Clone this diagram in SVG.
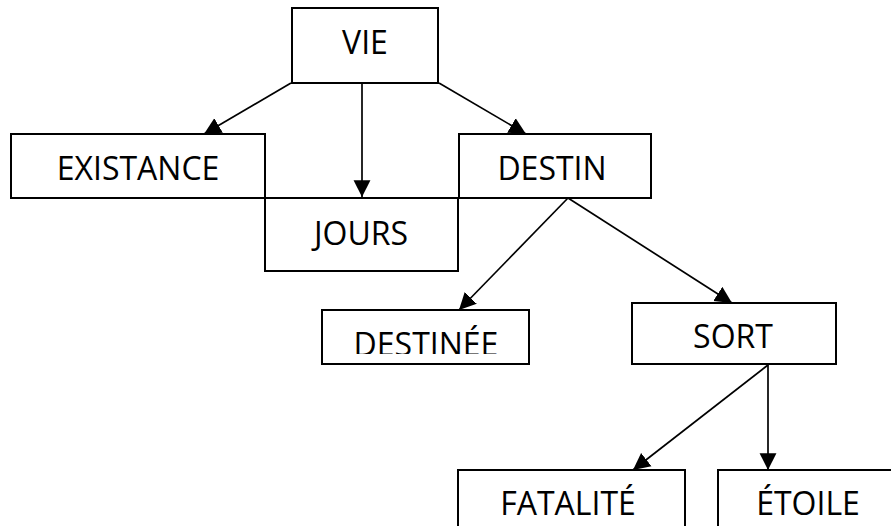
<svg xmlns="http://www.w3.org/2000/svg" width="891" height="526" viewBox="0 0 891 526">
<style>
.box{fill:#fff;stroke:#000;stroke-width:2}
.lbl{font-family:"Open Sans","Liberation Sans",sans-serif;font-size:32px;fill:#000;text-anchor:middle}
.con{stroke:#000;stroke-width:1.7;fill:none;marker-end:url(#ah)}
</style>
<defs>
<marker id="ah" markerUnits="userSpaceOnUse" markerWidth="18" markerHeight="18" viewBox="0 -8 16 16" refX="15" refY="0" orient="auto">
<path d="M0,-7.5 L15,0 L0,7.5 z" fill="#000"/>
</marker>
<clipPath id="clipDest"><rect x="322" y="310" width="208" height="44"/></clipPath>
</defs>
<rect width="891" height="526" fill="#fff"/>
<g id="vie"><rect class="box" x="292" y="8" width="146" height="75"/><text class="lbl" x="365" y="54">VIE</text></g>
<g id="existance"><rect class="box" x="11" y="134" width="254" height="64"/><text class="lbl" x="138" y="180">EXISTANCE</text></g>
<g id="jours"><rect class="box" x="265" y="198" width="193" height="73"/><text class="lbl" x="361" y="245">JOURS</text></g>
<g id="destin"><rect class="box" x="459" y="134" width="192" height="64"/><text class="lbl" x="552" y="180">DESTIN</text></g>
<g id="destinee"><rect class="box" x="322" y="310" width="207" height="54"/><text class="lbl" x="426" y="356" clip-path="url(#clipDest)">DESTINÉE</text></g>
<g id="sort"><rect class="box" x="632" y="303" width="204" height="61"/><text class="lbl" x="733" y="348">SORT</text></g>
<g id="fatalite"><rect class="box" x="458" y="470" width="227" height="70"/><text class="lbl" x="568" y="515">FATALITÉ</text></g>
<g id="etoile"><rect class="box" x="718" y="470" width="190" height="70"/><text class="lbl" x="808" y="515">ÉTOILE</text></g>
<g id="connectors">
<line class="con" x1="291" y1="83" x2="204" y2="134"/>
<line class="con" x1="362" y1="83" x2="362" y2="197"/>
<line class="con" x1="439" y1="83" x2="526" y2="134"/>
<line class="con" x1="568" y1="198" x2="459" y2="310"/>
<line class="con" x1="568" y1="198" x2="732" y2="303"/>
<line class="con" x1="768" y1="365" x2="633" y2="470"/>
<line class="con" x1="768" y1="365" x2="768" y2="470"/>
</g>
</svg>
